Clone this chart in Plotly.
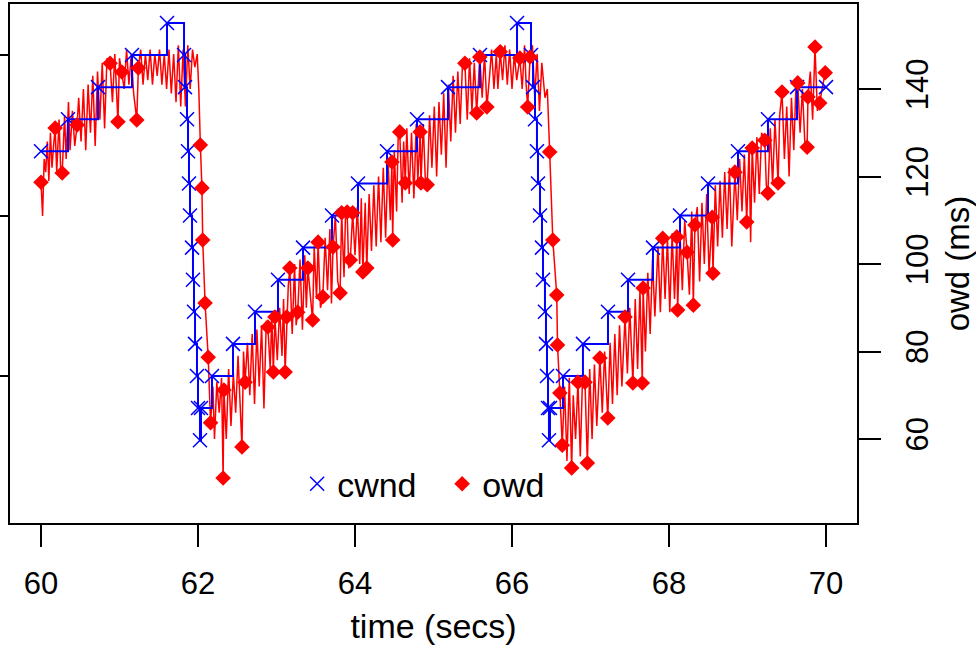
import plotly.graph_objects as go

# ---------------- data ----------------
cwnd_t = [60.000, 60.344, 60.726, 61.159, 61.605, 61.822, 61.834, 61.860, 61.873, 61.885,
          61.898, 61.924, 61.936, 61.949, 61.962, 61.987, 62.000, 62.025, 62.038, 62.178,
          62.446, 62.726, 63.019, 63.338, 63.707, 64.038, 64.408, 64.790, 65.185, 65.592,
          66.064, 66.242, 66.268, 66.293, 66.318, 66.331, 66.357, 66.382, 66.395, 66.420,
          66.433, 66.446, 66.459, 66.471, 66.484, 66.650, 66.904, 67.223, 67.478, 67.796,
          68.140, 68.497, 68.879, 69.261, 69.631, 70.000]
cwnd_v = [24, 26, 28, 30, 32, 30, 28, 26, 24, 22,
          20, 18, 16, 14, 12, 10, 8, 6, 8, 10,
          12, 14, 16, 18, 20, 22, 24, 26, 28, 30,
          32, 30, 28, 26, 24, 22, 20, 18, 16, 14,
          12, 10, 8, 6, 8, 10, 12, 14, 16, 18,
          20, 22, 24, 26, 28, 28]

owd_seg1 = [(60.00,118.7),(60.02,111),(60.04,124),(60.06,121),(60.08,128),(60.10,119),(60.12,130),
            (60.14,122),(60.16,127),(60.18,131.1),(60.20,121),(60.23,133),(60.25,122),(60.27,120.8),
            (60.30,134),(60.32,124),(60.35,137),(60.37,126),(60.40,135),(60.43,127),(60.46,131.8),
            (60.48,138),(60.51,128),(60.54,140),(60.57,126),(60.60,141),(60.63,130),(60.66,143),
            (60.69,127),(60.72,144),(60.75,133),(60.78,146),(60.81,131),(60.84,147),(60.88,145.9),
            (60.91,137),(60.94,148),(60.96,140),(60.98,132.5),(61.00,147),(61.03,143.9),(61.06,140),
            (61.09,149),(61.12,141),(61.15,148),(61.18,139),(61.22,132.9),(61.24,144.8),(61.27,149),
            (61.30,141),(61.33,148),(61.36,142),(61.39,149),(61.42,141),(61.45,148),(61.48,143),
            (61.51,149),(61.54,141),(61.57,148),(61.60,140),(61.63,149),(61.66,139),(61.69,148),
            (61.72,137),(61.75,150),(61.78,136),(61.81,149),(61.84,136),(61.87,150),(61.90,140),
            (61.93,149),(61.96,145),(61.99,148),(62.01,140),(62.03,127.2),(62.05,117.4),(62.06,105.5),
            (62.09,91.1),(62.13,78.7),(62.16,63.7)]

owd_seg2 = [(62.19,72),(62.21,60),(62.24,73),(62.27,66),(62.30,74),(62.32,51.1),(62.33,71.2),
            (62.36,60),(62.39,76),(62.42,63),(62.45,75),(62.48,66),(62.51,79),(62.54,65),(62.56,58.2),
            (62.58,80),(62.60,73.0),(62.63,82),(62.66,70),(62.69,84),(62.72,68),(62.75,85),(62.78,72),
            (62.81,86),(62.84,67),(62.87,87),(62.89,85.6),(62.92,76),(62.94,88),(62.96,75.3),(62.98,87.9),
            (63.01,78),(63.04,90),(63.07,79),(63.09,92),(63.11,75.3),(63.13,87.9),(63.15,95),(63.17,99.1),
            (63.20,84),(63.23,100),(63.25,86),(63.27,89.0),(63.30,101),(63.33,85),(63.36,102),(63.38,90),
            (63.40,99.1),(63.43,93),(63.46,87.2),(63.48,104),(63.51,92),(63.53,105.0),(63.56,90),
            (63.59,92.5),(63.62,106),(63.65,94),(63.68,108),(63.70,91),(63.72,103.9),(63.75,111),
            (63.78,96),(63.81,93.4),(63.83,111.7),(63.86,97),(63.88,112),(63.90,111.9),(63.92,99),
            (63.94,100.9),(63.97,111.7),(64.00,102),(64.03,113),(64.06,100),(64.08,115),(64.10,98.2),
            (64.13,114),(64.15,99.1),(64.18,116),(64.21,103),(64.24,118),(64.27,104),(64.30,120),
            (64.33,105),(64.36,122),(64.39,106),(64.42,124),(64.45,110),(64.47,123.3),(64.48,105.5),
            (64.50,126),(64.53,112),(64.55,129),(64.57,130.2),(64.60,114),(64.62,128),(64.64,118.5),
            (64.66,131),(64.69,116),(64.72,130),(64.75,115),(64.78,132),(64.80,119),(64.83,130.2),
            (64.84,118.5),(64.87,132),(64.90,117),(64.92,118.1),(64.95,134),(64.98,122),(65.01,136),
            (65.04,120),(65.07,137),(65.10,125),(65.13,139),(65.16,122),(65.19,141),(65.22,128),
            (65.25,143),(65.28,130),(65.31,144),(65.34,132),(65.37,146),(65.40,145.9),(65.43,133),
            (65.46,147),(65.49,135),(65.52,146),(65.55,134.5),(65.59,147.3),(65.62,138),(65.65,148),
            (65.68,135.9),(65.71,142),(65.74,149),(65.77,140),(65.80,148),(65.82,140),(65.85,148.5),
            (65.88,142),(65.91,150),(65.94,141),(65.97,149),(66.00,140),(66.03,148),(66.06,142),
            (66.10,147.1),(66.13,140),(66.16,150),(66.18,141),(66.20,135.9),(66.23,147.3),(66.26,150),
            (66.29,138),(66.32,148),(66.35,135),(66.38,146),(66.42,138),(66.45,140),(66.48,125.6),
            (66.52,105.5),(66.57,92.9),(66.58,81.5),(66.61,70.5),(66.64,58.6)]

owd_seg3 = [(66.67,72),(66.70,55),(66.73,74),(66.76,53.4),(66.78,70),(66.81,60),(66.84,73.0),
            (66.87,56),(66.90,75),(66.93,73.0),(66.96,54.5),(66.99,76),(67.02,60),(67.05,77),(67.08,63),
            (67.12,78.5),(67.15,66),(67.18,80),(67.22,64.8),(67.25,82),(67.28,68),(67.31,84),(67.34,70),
            (67.37,86),(67.40,72),(67.44,87.9),(67.47,75),(67.50,90),(67.54,72.8),(67.57,92),(67.60,76),
            (67.63,94),(67.66,72.8),(67.67,94.5),(67.70,80),(67.73,98),(67.76,84),(67.79,101),(67.82,88),
            (67.86,104),(67.89,89),(67.92,105.9),(67.95,92),(67.98,106),(68.01,89),(68.04,107),(68.07,92),
            (68.10,106.2),(68.11,89.5),(68.14,107),(68.17,94),(68.20,110),(68.23,102.7),(68.26,93),
            (68.29,112),(68.31,90.6),(68.33,108.9),(68.36,113),(68.39,96),(68.42,114),(68.45,100),
            (68.48,116),(68.51,98),(68.55,110.7),(68.56,97.9),(68.59,118),(68.62,104),(68.65,119),
            (68.68,106),(68.71,121),(68.74,108),(68.77,122),(68.80,104),(68.84,121.0),(68.87,110),
            (68.90,124),(68.93,112),(68.96,125),(68.99,109.6),(69.02,127),(69.04,105),(69.06,126.5),
            (69.09,114),(69.12,129),(69.15,116),(69.18,130),(69.22,128.3),(69.24,118),(69.26,116.2),
            (69.29,131),(69.32,118),(69.35,133),(69.39,118.5),(69.41,134),(69.44,139.3),(69.47,124),
            (69.50,136),(69.53,120),(69.56,138),(69.59,126),(69.62,142),(69.64,141.4),(69.67,130),
            (69.70,140),(69.73,128),(69.76,126.7),(69.77,138.2),(69.80,144),(69.83,133),(69.86,149.6),
            (69.89,135),(69.92,136.8),(69.95,140),(69.99,143.7)]

owd_marks = [(60.00,118.7),(60.18,131.1),(60.27,120.8),(60.46,131.8),(60.88,145.9),(60.98,132.5),
             (61.03,143.9),(61.22,132.9),(61.24,144.8),(62.03,127.2),(62.05,117.4),(62.06,105.5),
             (62.09,91.1),(62.13,78.7),(62.16,63.7),(62.32,51.1),(62.33,71.2),(62.56,58.2),(62.60,73.0),
             (62.89,85.6),(62.96,75.3),(62.98,87.9),(63.11,75.3),(63.13,87.9),(63.17,99.1),(63.27,89.0),
             (63.40,99.1),(63.46,87.2),(63.53,105.0),(63.59,92.5),(63.72,103.9),(63.81,93.4),(63.83,111.7),
             (63.90,111.9),(63.94,100.9),(63.97,111.7),(64.10,98.2),(64.15,99.1),(64.47,123.3),(64.48,105.5),
             (64.57,130.2),(64.64,118.5),(64.83,130.2),(64.84,118.5),(64.92,118.1),(65.40,145.9),(65.55,134.5),
             (65.59,147.3),(65.68,135.9),(65.85,148.5),(66.10,147.1),(66.20,135.9),(66.23,147.3),(66.48,125.6),
             (66.52,105.5),(66.57,92.9),(66.58,81.5),(66.61,70.5),(66.64,58.6),(66.76,53.4),(66.84,73.0),
             (66.93,73.0),(66.96,54.5),(67.12,78.5),(67.22,64.8),(67.44,87.9),(67.54,72.8),(67.66,72.8),
             (67.67,94.5),(67.92,105.9),(68.10,106.2),(68.11,89.5),(68.23,102.7),(68.31,90.6),(68.33,108.9),
             (68.55,110.7),(68.56,97.9),(68.84,121.0),(68.99,109.6),(69.06,126.5),(69.22,128.3),(69.26,116.2),
             (69.39,118.5),(69.44,139.3),(69.64,141.4),(69.76,126.7),(69.77,138.2),(69.86,149.6),(69.92,136.8),
             (69.99,143.7)]

x_ticks = [60, 62, 64, 66, 68, 70]
owd_ticks = [60, 80, 100, 120, 140]
cwnd_ticks = [10, 20, 30]

# ---------------- figure ----------------
owd_line = owd_seg1 + owd_seg2 + owd_seg3
line_t = [p[0] for p in owd_line]
line_v = [p[1] for p in owd_line]
mark_t = [p[0] for p in owd_marks]
mark_v = [p[1] for p in owd_marks]

FONT = "Liberation Sans, Arial, Helvetica, sans-serif"
fig = go.Figure()
fig.add_trace(go.Scatter(x=line_t, y=line_v, mode="lines", yaxis="y",
                         line=dict(color="red", width=1.5), showlegend=False, hoverinfo="skip"))
fig.add_trace(go.Scatter(x=cwnd_t, y=cwnd_v, mode="lines", yaxis="y2",
                         line=dict(color="blue", width=2, shape="hv"), showlegend=False))
fig.add_trace(go.Scatter(x=cwnd_t, y=cwnd_v, mode="markers", yaxis="y2", name="cwnd",
                         marker=dict(symbol="x-thin", size=14, color="blue",
                                     line=dict(color="blue", width=1.5))))
fig.add_trace(go.Scatter(x=mark_t, y=mark_v, mode="markers", yaxis="y3", name="owd",
                         marker=dict(symbol="diamond", size=12, color="red",
                                     line=dict(width=0))))

axis_common = dict(showgrid=False, zeroline=False, ticks="outside", ticklen=22,
                   tickwidth=1.5, tickcolor="black", automargin=False)

fig.update_layout(
    template="none",
    width=976, height=648,
    margin=dict(l=10, r=119, t=4, b=125),
    paper_bgcolor="white", plot_bgcolor="white",
    font=dict(family=FONT, size=31, color="black"),
    legend=dict(orientation="h", x=0.339, y=0.075, xanchor="left", yanchor="middle",
                bgcolor="rgba(0,0,0,0)", font=dict(size=34, family=FONT),
                entrywidth=100, entrywidthmode="pixels"),
    xaxis=dict(range=[59.605, 70.395], tickvals=x_ticks, showline=True, mirror=True,
               linecolor="black", linewidth=2, ticklabelstandoff=10,
               title=dict(text="time (secs)", standoff=14, font=dict(size=34)),
               **axis_common),
    yaxis=dict(range=[40.8, 159.43], side="right", tickvals=owd_ticks, tickangle=-90,
               showline=True, mirror=True, linecolor="black", linewidth=2,
               ticklabelstandoff=10,
               title=dict(text="owd (ms)", standoff=13, font=dict(size=33)),
               **axis_common),
    yaxis2=dict(range=[0.84, 33.18], overlaying="y", side="left", tickvals=cwnd_ticks,
                showticklabels=False, showline=False, **axis_common),
    yaxis3=dict(range=[40.8, 159.43], overlaying="y", visible=False),
)

fig.write_html("out.html")
